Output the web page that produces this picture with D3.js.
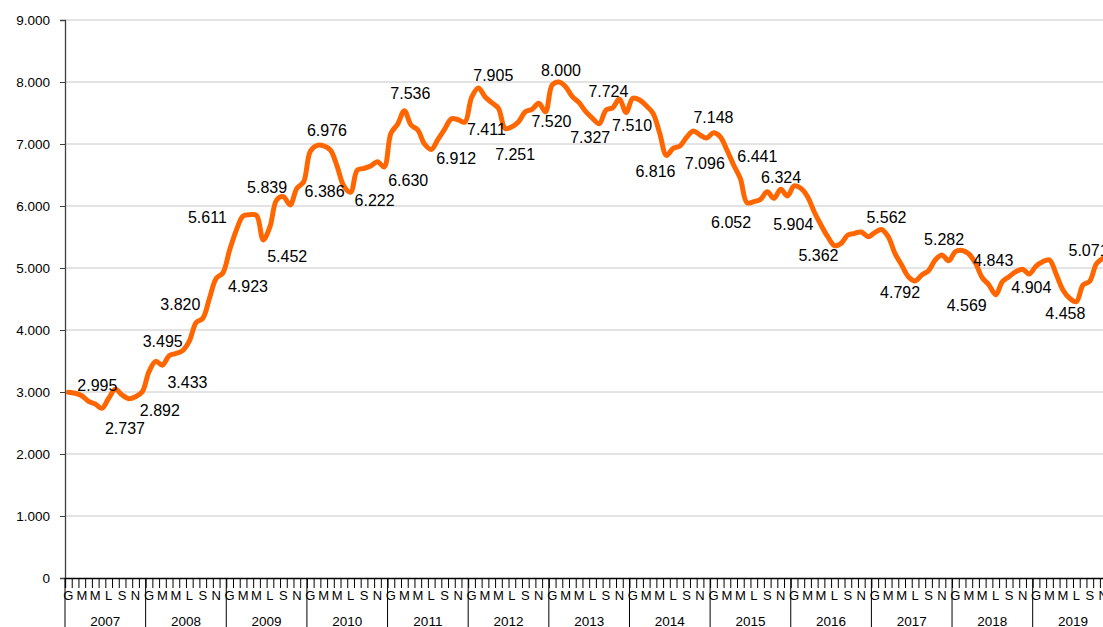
<!DOCTYPE html>
<html><head><meta charset="utf-8">
<script src="https://cdn.jsdelivr.net/npm/d3@7"></script>
<style>
body{margin:0;background:#fff;overflow:hidden}
text{font-family:"Liberation Sans",Arial,sans-serif;fill:#000}
</style>
</head><body>
<svg id="chart" width="1103" height="627"></svg>
<script>
// ---------------- DATA ----------------
const years = [2007,2008,2009,2010,2011,2012,2013,2014,2015,2016,2017,2018,2019];
const monthLetters = ["G","F","M","A","M","G","L","A","S","O","N","D"];
const v2007 = [2995,2980,2940,2850,2806,2737,2900,3043,2952,2892,2925,3005];
const v2008 = [3328,3495,3433,3586,3621,3667,3820,4118,4188,4511,4833,4923];
const v2009 = [5290,5611,5839,5860,5850,5452,5666,6097,6150,6016,6285,6386];
const v2010 = [6880,6976,6970,6900,6640,6320,6222,6581,6608,6645,6715,6630];
const v2011 = [7172,7320,7536,7306,7226,7000,6912,7075,7240,7405,7392,7352];
const v2012 = [7750,7905,7763,7667,7575,7251,7280,7360,7521,7559,7656,7520];
const v2013 = [7952,8000,7925,7763,7667,7521,7414,7327,7548,7586,7724,7510];
const v2014 = [7737,7710,7616,7495,7172,6816,6930,6968,7108,7210,7145,7096];
const v2015 = [7180,7118,6903,6661,6441,6052,6070,6108,6231,6124,6269,6161];
const v2016 = [6324,6285,6150,5904,5693,5505,5362,5398,5532,5559,5581,5505];
const v2017 = [5570,5620,5505,5237,5048,4860,4792,4887,4957,5129,5210,5118];
const v2018 = [5263,5282,5226,5075,4843,4726,4569,4779,4860,4941,4980,4904];
const v2019 = [5032,5102,5129,4900,4645,4511,4458,4726,4790,5071,5160];
const yTicks = [0,1000,2000,3000,4000,5000,6000,7000,8000,9000];
// annotated points: month index (from Jan 2007) and shown value
const labelMonths = [0,5,9,13,14,18,23,25,26,29,35,37,42,47,50,54,61,64,65,71,73,79,82,83,89,95,96,100,101,108,111,114,121,126,133,136,138,143,150,153];
const labelValues = [2995,2737,2892,3495,3433,3820,4923,5611,5839,5452,6386,6976,6222,6630,7536,6912,7905,7411,7251,7520,8000,7327,7724,7510,6816,7096,7148,6441,6052,6324,5904,5362,5562,4792,5282,4843,4569,4904,4458,5071];

const series = [].concat(v2007,v2008,v2009,v2010,v2011,v2012,v2013,v2014,v2015,v2016,v2017,v2018,v2019);
const nMonths = years.length * 12;

// ---------------- LAYOUT ----------------
const mLeft = 65, mTop = 20, mBottom = 578, monthW = 6.72;
const svg = d3.select("#chart");
const x = d3.scaleLinear().domain([0, nMonths]).range([mLeft, mLeft + nMonths * monthW]);
const y = d3.scaleLinear().domain([0, 9000]).range([mBottom, mTop]);
const loc = d3.formatLocale({decimal: ",", thousands: ".", grouping: [3], currency: ["", ""]});
const fmtTick = loc.format(",.0f");
const fmtLabel = loc.format(",.0f");

// label offsets (px) from the anchor point to the text centre
const labelOffsets = [[29,-7],[23,20],[31,12],[7,-20],[25,17],[-9,-37],[25,14],[-29,-13],[24,-29],[24,16],
  [21,9],[10,-15],[24,8],[24,13],[6,-17],[25,9],[15,-13],[-12,11],[10,26],[6,10],
  [2,-12],[-9,14],[-11,-8],[6,13],[-11,16],[-2,25],[0,-18],[17,-22],[-16,20],[-13,-9],
  [-21,12],[-16,10],[5,-16],[-15,11],[-18,-11],[11,-17],[-29,11],[2,13],[-11,12],[-8,-13]];

// gridlines
svg.append("g").selectAll("line").data(yTicks.filter(d => d > 0)).join("line")
  .attr("x1", mLeft).attr("x2", 1103)
  .attr("y1", d => y(d)).attr("y2", d => y(d))
  .attr("stroke", "#c8c8c8").attr("stroke-width", 1);

// y axis
const yAxis = svg.append("g").attr("transform", `translate(${mLeft},0)`)
  .call(d3.axisLeft(y).tickValues(yTicks).tickSize(5).tickPadding(10).tickFormat(fmtTick));
yAxis.select(".domain").attr("stroke", "#404040").attr("stroke-width", 1.3);
yAxis.selectAll(".tick line").attr("stroke", "#404040");
yAxis.selectAll("text").style("font-size", "13.5px").style("font-family", "'Liberation Sans',Arial,sans-serif").attr("fill", "#000");

// x axis: month ticks
const xAxis = svg.append("g").attr("transform", `translate(0,${mBottom})`)
  .call(d3.axisBottom(x).tickValues(d3.range(0, nMonths + 1)).tickSize(10).tickFormat(""));
xAxis.select(".domain").attr("stroke", "#000").attr("stroke-width", 1.3);
xAxis.selectAll(".tick line").attr("stroke", "#000");

// year dividers
svg.append("g").selectAll("line").data(d3.range(0, years.length + 1)).join("line")
  .attr("x1", d => x(d * 12)).attr("x2", d => x(d * 12))
  .attr("y1", mBottom).attr("y2", 627)
  .attr("stroke", "#000").attr("stroke-width", 1);

// month letters (every other month)
const monthIdx = d3.range(0, nMonths).filter(i => i % 2 === 0);
svg.append("g").selectAll("text").data(monthIdx).join("text")
  .attr("x", i => x(i + 0.5)).attr("y", 600)
  .attr("text-anchor", "middle").style("font-size", "13px")
  .text(i => monthLetters[i % 12]);

// year labels
svg.append("g").selectAll("text").data(years).join("text")
  .attr("x", (d, k) => x(k * 12 + 6)).attr("y", 625.5)
  .attr("text-anchor", "middle").style("font-size", "13.5px")
  .text(d => d);

// line
const line = d3.line().x((d, i) => x(i + 0.5)).y(d => y(d)).curve(d3.curveCatmullRom.alpha(0.5));
svg.append("path").datum(series)
  .attr("d", line).attr("fill", "none")
  .attr("stroke", "#ff6600").attr("stroke-width", 5)
  .attr("stroke-linejoin", "round").attr("stroke-linecap", "round");

// data labels
svg.append("g").selectAll("text").data(labelMonths.map((m, k) => ({m, v: labelValues[k], o: labelOffsets[k]}))).join("text")
  .attr("x", d => x(d.m + 0.5) + d.o[0])
  .attr("y", d => y(d.v) + d.o[1] + 5.7)
  .attr("text-anchor", "middle").style("font-size", "16px")
  .text(d => fmtLabel(d.v));
</script>
</body></html>
